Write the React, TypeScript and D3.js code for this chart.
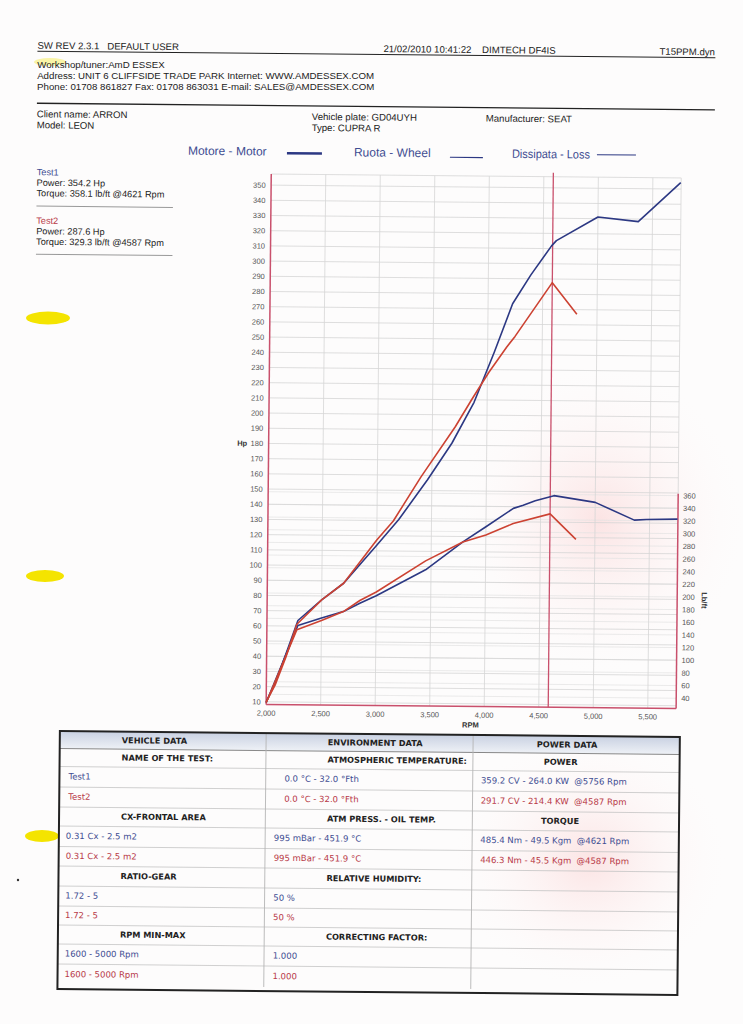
import React from "react";
import * as d3 from "d3";

// ---------- DATA ----------
const rpmTicks = [2000, 2500, 3000, 3500, 4000, 4500, 5000, 5500];
const hpTicks = d3.range(10, 351, 10);
const lbftTicks = d3.range(40, 361, 20);

// Test1 power (Hp) [rpm, hp]
const test1Power: [number, number][] = [
  [2000, 10], [2080, 22], [2180, 42.2], [2284, 63.7], [2500, 77.4], [2700, 88.5],
  [3000, 113.7], [3200, 130.8], [3460, 157.1], [3680, 181.3], [3880, 208.4], [4060, 241.3],
  [4225, 273.5], [4390, 292.6], [4577, 311.8], [4621, 315.3], [5000, 331.1], [5370, 328.3], [5756, 354.2],
];
// Test2 power (Hp)
const test2Power: [number, number][] = [
  [2000, 10], [2080, 21], [2180, 40.2], [2275, 61.2], [2500, 77.4], [2700, 88.5],
  [3000, 117.2], [3150, 129.8], [3400, 159], [3710, 192.2], [3860, 210.4], [4015, 228.4],
  [4175, 245], [4250, 252], [4587, 287.6], [4815, 266.9],
];
// Test1 torque (lb/ft)
const test1Torque: [number, number][] = [
  [2000, 26.7], [2284, 149.1], [2500, 161.5], [2700, 171.8], [2850, 185.1], [3000, 197.3],
  [3450, 239.1], [3790, 283.6], [4000, 308], [4250, 337.4], [4340, 342.5], [4450, 349.7],
  [4621, 358.1], [5000, 348.1], [5360, 320.7], [5470, 321.9], [5756, 322.9],
];
// Test2 torque (lb/ft)
const test2Torque: [number, number][] = [
  [2000, 26.7], [2275, 142.6], [2500, 157.5], [2700, 171.8], [2850, 189.6], [3000, 203.3],
  [3450, 253.1], [3790, 283.6], [4000, 295], [4250, 313.4], [4587, 329.3], [4826, 289.3],
];
const markerRpm = 4587;

const headerLeft = "SW REV 2.3.1   DEFAULT USER";
const headerMid = "21/02/2010 10:41:22    DIMTECH DF4IS";
const headerRight = "T15PPM.dyn";
const workshopLines = [
  "Workshop/tuner:AmD ESSEX",
  "Address: UNIT 6 CLIFFSIDE TRADE PARK Internet: WWW.AMDESSEX.COM",
  "Phone: 01708 861827 Fax: 01708 863031 E-mail: SALES@AMDESSEX.COM",
];

type Row = { kind: "label" | "t1" | "t2"; cells: string[] };
const tableHeaders = ["VEHICLE DATA", "ENVIRONMENT DATA", "POWER DATA"];
const tableRows: Row[] = [
  { kind: "label", cells: ["NAME OF THE TEST:", "ATMOSPHERIC TEMPERATURE:", "POWER"] },
  { kind: "t1", cells: ["Test1", "0.0 °C - 32.0 °Fth", "359.2 CV - 264.0 KW  @5756 Rpm"] },
  { kind: "t2", cells: ["Test2", "0.0 °C - 32.0 °Fth", "291.7 CV - 214.4 KW  @4587 Rpm"] },
  { kind: "label", cells: ["CX-FRONTAL AREA", "ATM PRESS. - OIL TEMP.", "TORQUE"] },
  { kind: "t1", cells: ["0.31 Cx - 2.5 m2", "995 mBar - 451.9 °C", "485.4 Nm - 49.5 Kgm  @4621 Rpm"] },
  { kind: "t2", cells: ["0.31 Cx - 2.5 m2", "995 mBar - 451.9 °C", "446.3 Nm - 45.5 Kgm  @4587 Rpm"] },
  { kind: "label", cells: ["RATIO-GEAR", "RELATIVE HUMIDITY:", ""] },
  { kind: "t1", cells: ["1.72 - 5", "50 %", ""] },
  { kind: "t2", cells: ["1.72 - 5", "50 %", ""] },
  { kind: "label", cells: ["RPM MIN-MAX", "CORRECTING FACTOR:", ""] },
  { kind: "t1", cells: ["1600 - 5000 Rpm", "1.000", ""] },
  { kind: "t2", cells: ["1600 - 5000 Rpm", "1.000", ""] },
];
const rowBounds = [751.5, 769.5, 790, 810, 829, 849.5, 869, 889, 909, 928, 947, 967, 988];

// ---------- STYLE ----------
const BLUE = "#2c3883";
const RED = "#cc4232";
const AXIS = "#c9506c";
const TXT_BLUE = "#3f4d92";
const TXT_RED = "#b83a48";
const SANS = "'Liberation Sans', Arial, sans-serif";
const VERD = "'DejaVu Sans', Verdana, sans-serif";
const TILT = 0.55; // the scanned page is slightly rotated
const CX = 371, CY = 512;

function rot(px: number, py: number): [number, number] {
  const a = (TILT * Math.PI) / 180;
  return [
    CX + (px - CX) * Math.cos(a) - (py - CY) * Math.sin(a),
    CY + (px - CX) * Math.sin(a) + (py - CY) * Math.cos(a),
  ];
}

export default function App() {
  const plotLeft = 268, plotRight = 678, plotTop = 175, plotBottom = 705.5;
  const x = d3.scaleLinear().domain([2000, 5760]).range([plotLeft, plotRight]);
  const yHp = d3.scaleLinear().domain([10, 350]).range([702.8, 186.1]);
  const yT = d3.scaleLinear().domain([40, 360]).range([695.3, 492.7]);

  const lineHp = d3.line<[number, number]>().x((d) => x(d[0])).y((d) => yHp(d[1]));
  const lineT = d3.line<[number, number]>().x((d) => x(d[0])).y((d) => yT(d[1]));

  const tLeft = 62, tRight = 682, tTop = 734, tBottom = 992;
  const colX = [268.3, 475.3];
  const labelX = [124, 330, 563];
  const dataX = [69, 277, 483.5];

  return (
    <svg width={743} height={1024} style={{ position: "absolute", left: 0, top: 0 }}>
      <defs>
        <linearGradient id="hdr" x1="0" y1="0" x2="0" y2="1">
          <stop offset="0" stopColor="#c9d1e2" />
          <stop offset="1" stopColor="#eef1f6" />
        </linearGradient>
        <radialGradient id="pink" cx="0.5" cy="0.5" r="0.5">
          <stop offset="0" stopColor="#fbe1e1" stopOpacity="0.9" />
          <stop offset="1" stopColor="#fff" stopOpacity="0" />
        </radialGradient>
      </defs>
      <rect x={0} y={0} width={743} height={1024} fill="#fdfcfc" />
      <ellipse cx={600} cy={520} rx={160} ry={170} fill="url(#pink)" />
      <ellipse cx={590} cy={860} rx={150} ry={140} fill="url(#pink)" />

      {/* highlighter marks */}
      <ellipse cx={50} cy={62} rx={16} ry={4} fill="#f6ec60" opacity={0.55} />
      <ellipse cx={48} cy={318} rx={22} ry={6.5} fill="#f4e400" />
      <ellipse cx={45} cy={576} rx={19} ry={6} fill="#f4e400" />
      <ellipse cx={42} cy={836} rx={17} ry={6} fill="#f4e400" />
      <circle cx={18} cy={880} r={1.2} fill="#333" />

      {/* long workshop lines: anchors follow the page tilt, glyphs stay level */}
      <g fontFamily={SANS} fontSize={9.7} fill="#222">
        {workshopLines.map((s, i) => {
          const [tx, ty] = rot(33, 71 + i * 11);
          return <text key={s} x={tx} y={ty}>{s}</text>;
        })}
      </g>

      <g transform={`rotate(${TILT}, ${CX}, ${CY})`}>
        {/* header */}
        <g fontFamily={SANS} fontSize={9.6} fill="#222">
          <text x={33} y={52} style={{ whiteSpace: "pre" }}>{headerLeft}</text>
          <text x={379} y={52} style={{ whiteSpace: "pre" }}>{headerMid}</text>
          <text x={710.5} y={52} textAnchor="end">{headerRight}</text>
          <line x1={33} x2={711} y1={54.5} y2={54.5} stroke="#222" strokeWidth={1} />
        </g>
        <g fontFamily={SANS} fontSize={9.6} fill="#222">
          <line x1={33} x2={711} y1={106.5} y2={106.5} stroke="#222" strokeWidth={1.3} />
          <text x={33} y={120.5}>Client name: ARRON</text>
          <text x={33} y={131.5}>Model: LEON</text>
          <text x={308} y={120.5}>Vehicle plate: GD04UYH</text>
          <text x={308} y={131.5}>Type: CUPRA R</text>
          <text x={482} y={120.5}>Manufacturer: SEAT</text>
        </g>

        {/* legend */}
        <g fontFamily={SANS} fontSize={12} fill={TXT_BLUE}>
          <text x={184.5} y={156.5}>Motore - Motor</text>
          <line x1={283.5} x2={318.5} y1={154} y2={154} stroke={BLUE} strokeWidth={2.5} />
          <text x={350.5} y={156.5}>Ruota - Wheel</text>
          <line x1={446.5} x2={479.5} y1={156.5} y2={156.5} stroke={BLUE} strokeWidth={1.2} />
          <text x={508.5} y={156.5} textLength={78} lengthAdjust="spacingAndGlyphs">Dissipata - Loss</text>
          <line x1={593.5} x2={632.5} y1={152.5} y2={152.5} stroke={BLUE} strokeWidth={1} />
        </g>

        {/* test summary */}
        <g fontFamily={SANS} fontSize={9.2} fill="#222">
          <text x={33.5} y={178.5} fill={TXT_BLUE}>Test1</text>
          <text x={33.5} y={189}>Power: 354.2 Hp</text>
          <text x={33.5} y={199.5}>Torque: 358.1 lb/ft @4621 Rpm</text>
          <line x1={33.5} x2={170} y1={209.3} y2={209.3} stroke="#999" strokeWidth={1} />
          <text x={33.5} y={227} fill={TXT_RED}>Test2</text>
          <text x={33.5} y={237.5}>Power: 287.6 Hp</text>
          <text x={33.5} y={248}>Torque: 329.3 lb/ft @4587 Rpm</text>
          <line x1={33.5} x2={170} y1={257.5} y2={257.5} stroke="#999" strokeWidth={1} />
        </g>

        {/* plot grid */}
        <g stroke="#e3e3e3" strokeWidth={0.7}>
          {lbftTicks.map((t) => (
            <line key={"g" + t} x1={plotLeft} x2={plotRight} y1={yT(t)} y2={yT(t)} />
          ))}
        </g>
        <g stroke="#d6d6d6" strokeWidth={0.8}>
          {hpTicks.map((t) => (
            <line key={"h" + t} x1={plotLeft} x2={plotRight} y1={yHp(t)} y2={yHp(t)} />
          ))}
          {rpmTicks.slice(1).map((t) => (
            <line key={"v" + t} x1={x(t)} x2={x(t)} y1={plotTop} y2={plotBottom} />
          ))}
          <line x1={plotLeft} x2={plotRight} y1={plotTop} y2={plotTop} />
          <line x1={plotRight} x2={plotRight} y1={plotTop} y2={yT(360)} />
        </g>

        {/* axes */}
        <g stroke={AXIS} strokeWidth={1.5} fill="none">
          <line x1={plotLeft} x2={plotLeft} y1={plotTop} y2={plotBottom} />
          <line x1={plotLeft} x2={plotRight} y1={plotBottom} y2={plotBottom} />
          <line x1={plotRight} x2={plotRight} y1={yT(360) - 2} y2={plotBottom} />
          <line x1={x(markerRpm)} x2={x(markerRpm)} y1={plotTop - 4} y2={plotBottom} strokeWidth={1.3} />
        </g>

        <g fontFamily={SANS} fontSize={7.5} fill="#555">
          {hpTicks.map((t) => (
            <text key={"hl" + t} x={262.5} y={yHp(t) + 2.7} textAnchor="end">{t}</text>
          ))}
          {lbftTicks.map((t) => (
            <text key={"tl" + t} x={683} y={yT(t) + 2.7}>{t}</text>
          ))}
          {rpmTicks.map((t) => (
            <text key={"xl" + t} x={x(t)} y={716.7} textAnchor="middle">{d3.format(",")(t)}</text>
          ))}
          <text x={246.5} y={447} textAnchor="end" fontWeight="bold" fill="#333">Hp</text>
          <text x={472.5} y={726.5} textAnchor="middle" fontWeight="bold" fill="#333">RPM</text>
          <text transform="translate(702.5,589) rotate(90)" fontWeight="bold" fill="#333">Lb/ft</text>
        </g>

        {/* curves */}
        <g fill="none" strokeWidth={1.6} strokeLinejoin="round">
          <path d={lineHp(test1Power) || ""} stroke={BLUE} />
          <path d={lineT(test1Torque) || ""} stroke={BLUE} />
          <path d={lineHp(test2Power) || ""} stroke={RED} />
          <path d={lineT(test2Torque) || ""} stroke={RED} />
        </g>

        {/* table */}
        <g>
          <rect x={tLeft} y={tTop} width={tRight - tLeft} height={rowBounds[0] - tTop} fill="url(#hdr)" />
          {rowBounds.slice(1, -1).map((b) => (
            <line key={"r" + b} x1={tLeft} x2={tRight} y1={b} y2={b} stroke="#c4c4c4" strokeWidth={0.8} />
          ))}
          <line x1={tLeft} x2={tRight} y1={rowBounds[0]} y2={rowBounds[0]} stroke="#888" strokeWidth={1} />
          {colX.map((c) => (
            <line key={"c" + c} x1={c} x2={c} y1={tTop} y2={rowBounds[rowBounds.length - 1]} stroke="#b5b5b5" strokeWidth={0.9} />
          ))}
          <rect x={tLeft} y={tTop} width={tRight - tLeft} height={tBottom - tTop} fill="none" stroke="#222" strokeWidth={2} />
          <g fontFamily={VERD} fontSize={8.2} fontWeight="bold" fill="#222">
            {tableHeaders.map((h, i) => (
              <text key={h} x={[124, 330, 539][i]} y={745.7}>{h}</text>
            ))}
          </g>
          {tableRows.map((row, ri) => {
            const top = rowBounds[ri];
            const bot = rowBounds[ri + 1];
            const ty = (top + bot) / 2 + 2.5;
            return (
              <g key={"row" + ri} fontFamily={VERD} fontSize={8.5}>
                {row.cells.map((c, ci) => {
                  if (!c) return null;
                  if (row.kind === "label") {
                    return (
                      <text key={ci} x={labelX[ci]} y={ty} fontWeight="bold" fontSize={8.2} fill="#222"
                        textAnchor={ci === 2 ? "middle" : "start"}>{c}</text>
                    );
                  }
                  const xx = dataX[ci] + (ri < 3 && ci === 1 ? 10 : 0) + (ri < 3 && ci === 0 ? 2 : 0);
                  return (
                    <text key={ci} x={xx} y={ty} fill={row.kind === "t1" ? TXT_BLUE : TXT_RED}
                      style={{ whiteSpace: "pre" }}>{c}</text>
                  );
                })}
              </g>
            );
          })}
        </g>
      </g>
    </svg>
  );
}
